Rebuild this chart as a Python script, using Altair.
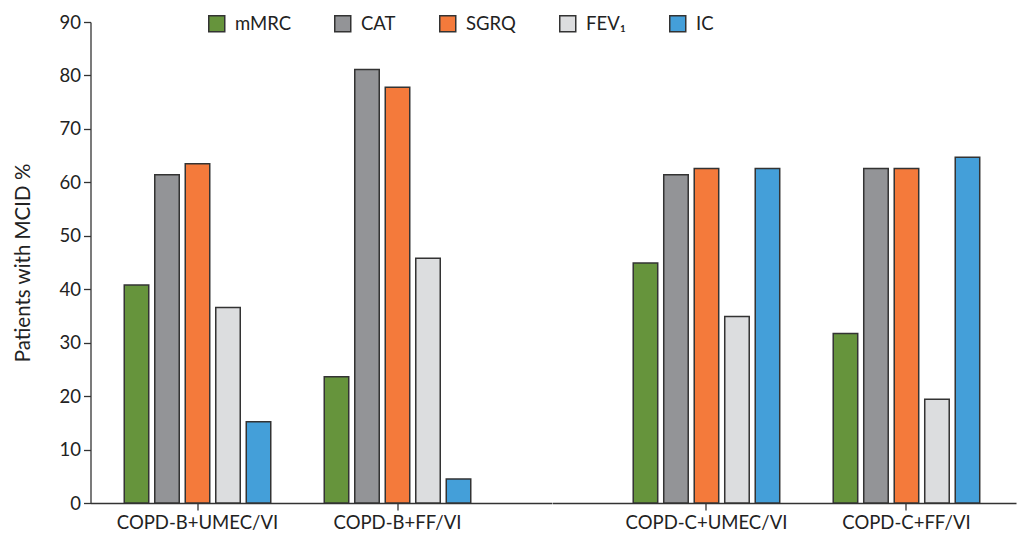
import altair as alt
import pandas as pd

groups = ["COPD-B+UMEC/VI", "COPD-B+FF/VI", "COPD-C+UMEC/VI", "COPD-C+FF/VI"]
series = ["mMRC", "CAT", "SGRQ", "FEV₁", "IC"]
mmrc = [40.8, 23.6, 44.9, 31.7]
cat = [61.4, 81.1, 61.4, 62.6]
sgrq = [63.5, 77.8, 62.6, 62.6]
fev1 = [36.6, 45.8, 34.9, 19.4]
ic = [15.2, 4.5, 62.6, 64.7]
colors = ["#66943c", "#939497", "#f47a3b", "#dcdddf", "#449fd9"]

rows = []
for s, vals in zip(series, [mmrc, cat, sgrq, fev1, ic]):
    for g, v in zip(groups, vals):
        rows.append({"group": g, "series": s, "value": v})
df = pd.DataFrame(rows)

FONT = "Lato"
FS = 18.5
H = 481


def panel(gs, width, pad_outer, align, show_y):
    y_axis = alt.Axis(values=list(range(0, 91, 10)), tickSize=7, title="Patients with MCID %",
                      titlePadding=26, titleFontSize=20.5, labelPadding=3,
                      grid=False) if show_y else None
    return alt.Chart(df[df["group"].isin(gs)]).mark_bar(
        stroke="#333333", strokeWidth=1.5
    ).encode(
        x=alt.X("group:N", sort=gs, title=None,
                scale=alt.Scale(paddingInner=0.2675, paddingOuter=pad_outer, align=align),
                axis=alt.Axis(labelAngle=0, tickSize=7, labelPadding=3)),
        xOffset=alt.XOffset("series:N", sort=series,
                            scale=alt.Scale(paddingInner=0.197, paddingOuter=0)),
        y=alt.Y("value:Q", scale=alt.Scale(domain=[0, 90], nice=False), axis=y_axis),
        color=alt.Color("series:N", sort=series,
                        scale=alt.Scale(domain=series, range=colors),
                        legend=alt.Legend(title=None, orient="none", legendX=117, legendY=-8,
                                          direction="horizontal", columns=5,
                                          symbolType="square", symbolSize=256,
                                          symbolStrokeColor="#333333", symbolStrokeWidth=1.5,
                                          labelFontSize=FS, labelOffset=9, columnPadding=40,
                                          labelColor="#222222")),
    ).properties(width=width, height=H)


left = panel(groups[:2], 461.5, 0.2875, 0.2935, True)
right = panel(groups[2:], 463.5, 0.2925, 0.69, False)

chart = alt.hconcat(left, right, spacing=0).resolve_scale(y="shared").properties(
    padding={"left": 4.5, "top": 5, "right": 0, "bottom": 0}
).configure_view(stroke=None).configure_axis(
    domainColor="#333333", tickColor="#333333", labelColor="#222222", titleColor="#222222",
    labelFont=FONT, titleFont=FONT, labelFontSize=FS, titleFontSize=FS, titleFontWeight="normal",
    domainWidth=1.3, tickWidth=1.3
).configure_legend(labelFont=FONT)

chart.save("out.html", embed_options={"renderer": "svg", "actions": False})
